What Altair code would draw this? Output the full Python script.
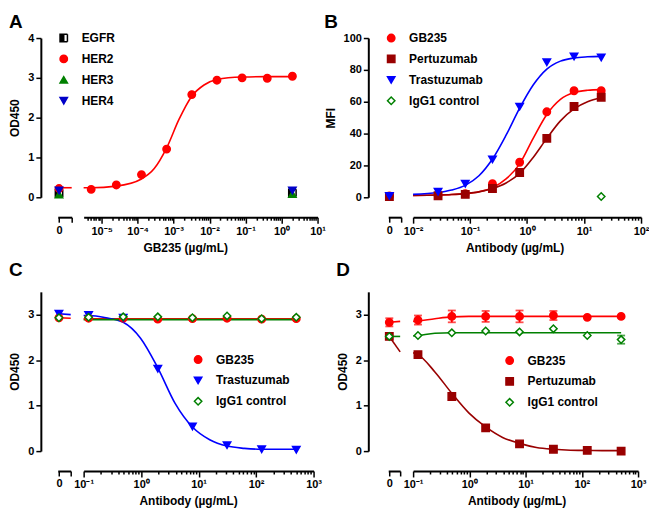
import math
import altair as alt
import pandas as pd

FONT = "Liberation Sans"

# ---------------- Panel A : ELISA binding, OD450 vs GB235 ----------------
A_SERIES = ["EGFR", "HER2", "HER3", "HER4"]
A_CONC = [5.12e-6, 2.56e-5, 1.28e-4, 6.4e-4, 3.2e-3, 1.6e-2, 8e-2, 0.4, 2.0]
A_HER2 = [0.20, 0.31, 0.57, 1.21, 2.58, 2.94, 3.00, 2.99, 3.04]
A_TOP_CONC = [2.0]
A_EGFR = [0.11]
A_HER3 = [0.08]
A_HER4 = [0.17]
A_ZERO = [0.10, 0.22, 0.07, 0.17]          # EGFR, HER2, HER3, HER4 at 0
A_FIT_CONC = [3.16e-6, 5.12e-6, 2.56e-5, 1.28e-4, 2.9e-4, 6.4e-4, 1.4e-3,
              3.2e-3, 7e-3, 1.6e-2, 8e-2, 0.4, 2.0]
A_FIT_HER2 = [0.24, 0.24, 0.28, 0.46, 0.72, 1.24, 1.95, 2.54, 2.82, 2.96,
              3.02, 3.03, 3.03]
A_FIT0_HER2 = [0.24, 0.24]

# ---------------- Panel B : cell binding, MFI ----------------
B_SERIES = ["GB235", "Pertuzumab", "Trastuzumab", "IgG1 control"]
B_CONC = [0.0274, 0.0823, 0.247, 0.741, 2.22, 6.67, 20.0]
B_GB235 = [1.4, 2.3, 8.5, 22.0, 53.7, 66.9, 66.9]
B_PERTUZUMAB = [1.0, 1.8, 5.5, 15.6, 37.0, 57.0, 62.8]
B_TRASTUZUMAB = [3.5, 8.5, 23.8, 56.9, 84.8, 88.4, 87.8]
B_IGG1_CONC = [20.0]
B_IGG1 = [0.5]
B_ZERO_SERIES = ["GB235", "Pertuzumab", "Trastuzumab"]
B_ZERO = [0.8, 0.5, 0.9]
B_FIT_CONC = [0.01, 0.0274, 0.0475, 0.0823, 0.143, 0.247, 0.428, 0.741,
              1.28, 2.22, 3.85, 6.67, 11.5, 20.0]
B_FIT_GB235 = [1.2, 1.4, 1.7, 2.3, 3.5, 6.0, 11.5, 21.0, 37.0, 52.0, 61.5,
               65.8, 67.2, 67.6]
B_FIT_PERTUZUMAB = [1.2, 1.4, 1.7, 2.3, 3.4, 5.5, 9.0, 15.0, 25.0, 37.0,
                    48.0, 55.5, 60.0, 62.5]
B_FIT_TRASTUZUMAB = [1.8, 3.0, 4.6, 7.5, 13.5, 24.0, 39.0, 56.0, 70.5, 80.5,
                     85.5, 87.5, 88.2, 88.5]

# ---------------- Panel C : OD450 vs Trastuzumab ----------------
C_SERIES = ["GB235", "Trastuzumab", "IgG1 control"]
C_CONC = [0.122, 0.488, 1.95, 7.81, 31.25, 125.0, 500.0]
C_GB235 = [2.92, 2.92, 2.90, 2.91, 2.92, 2.90, 2.91]
C_TRASTUZUMAB = [2.99, 2.93, 1.81, 0.54, 0.13, 0.04, 0.03]
C_IGG1 = [2.94, 2.95, 2.95, 2.93, 2.97, 2.91, 2.94]
C_ZERO = [2.93, 3.02, 2.93]
C_FIT_CONC = [0.1, 0.122, 0.244, 0.488, 0.977, 1.95, 3.9, 7.81, 15.6, 31.25,
              62.5, 125.0, 250.0, 500.0]
C_FIT_TRASTUZUMAB = [2.98, 2.98, 2.93, 2.83, 2.48, 1.83, 1.05, 0.53, 0.25,
                     0.11, 0.06, 0.04, 0.04, 0.04]
C_FLAT_CONC = [0.1, 500.0]
C_FIT_GB235 = [2.91, 2.91]
C_FIT_IGG1 = [2.89, 2.89]
C_FIT0_GB235 = [2.93, 2.92]
C_FIT0_TRASTUZUMAB = [3.02, 3.00]

# ---------------- Panel D : OD450 vs Pertuzumab ----------------
D_SERIES = ["GB235", "Pertuzumab", "IgG1 control"]
D_CONC = [0.122, 0.488, 1.95, 7.81, 31.25, 125.0, 500.0]
D_GB235 = [2.88, 2.96, 2.96, 2.96, 2.98, 2.94, 2.96]
D_GB235_ERR = [0.10, 0.13, 0.12, 0.13, 0.10, 0.0, 0.0]
D_PERTUZUMAB = [2.12, 1.20, 0.51, 0.16, 0.04, 0.015, 0.0]
D_IGG1 = [2.54, 2.60, 2.64, 2.62, 2.69, 2.54, 2.45]
D_IGG1_ERR = [0.0, 0.0, 0.0, 0.0, 0.0, 0.0, 0.09]
D_ZERO = [2.83, 2.52, 2.52]
D_ZERO_ERR = [0.09, 0.0, 0.0]
D_FIT_CONC = [0.1, 0.122, 0.244, 0.488, 0.977, 1.95, 3.9, 7.81, 15.6, 31.25,
              62.5, 125.0, 250.0, 500.0]
D_FIT_GB235 = [2.85, 2.86, 2.91, 2.95, 2.96, 2.96, 2.96, 2.96, 2.96, 2.96,
               2.96, 2.96, 2.96, 2.96]
D_FIT_PERTUZUMAB = [2.16, 2.12, 1.74, 1.27, 0.84, 0.53, 0.30, 0.17, 0.08,
                    0.04, 0.02, 0.015, 0.01, 0.01]
D_FIT_IGG1 = [2.53, 2.54, 2.59, 2.60, 2.60, 2.60, 2.60, 2.60, 2.60, 2.60,
              2.60, 2.60, 2.60, 2.60]
D_FIT0_GB235 = [2.83, 2.85]
D_FIT0_PERTUZUMAB = [2.52, 2.18]
D_FIT0_IGG1 = [2.52, 2.52]

# ---------------- styles ----------------
EGFR_PATH = "M-1,-1H0V1H-1Z M0,-1H1H0 M1,-1V1V-1 M0,1H1H0"
STYLE = {
    "EGFR": ("black", "black", EGFR_PATH),
    "HER2": ("#FF0000", "#FF0000", "circle"),
    "HER3": ("#008000", "#008000", "triangle-up"),
    "HER4": ("#0000C8", "#0000C8", "triangle-down"),
    "GB235": ("#FF0000", "#FF0000", "circle"),
    "Pertuzumab": ("#990000", "#990000", "square"),
    "Trastuzumab": ("#0000FF", "#0000FF", "triangle-down"),
    "IgG1 control": ("white", "#008000", "diamond"),
}
LINE = {"HER2": "#FF0000", "GB235": "#FF0000", "Pertuzumab": "#990000",
        "Trastuzumab": "#0000FF", "IgG1 control": "#008000"}
SIZE = 55
H = 160
SUP = str.maketrans("-0123456789", "⁻⁰¹²³⁴⁵⁶⁷⁸⁹")
MAJOR = "abs(log(datum.value)/LN10 - round(log(datum.value)/LN10)) < 0.001"


def pts_df(items):
    rows = []
    for s, xs, ys in items:
        f, st, sh = STYLE[s]
        for xv, yv in zip(xs, ys):
            rows.append(dict(series=s, x=xv, y=yv, fill=f, stroke=st, shape=sh))
    return pd.DataFrame(rows)


def line_df(items):
    rows = []
    for s, xs, ys in items:
        for xv, yv in zip(xs, ys):
            rows.append(dict(series=s, x=xv, y=yv, color=LINE[s]))
    return pd.DataFrame(rows)


def err_df(items):
    rows = []
    for s, xs, ys, es in items:
        for xv, yv, ev in zip(xs, ys, es):
            if ev > 0:
                rows.append(dict(series=s, x=xv, lo=yv - ev, hi=yv + ev, color=LINE[s]))
    return pd.DataFrame(rows)


def log_ticks(dom):
    vals = []
    for k in range(math.floor(math.log10(dom[0])), math.ceil(math.log10(dom[1])) + 1):
        for m in range(1, 10):
            v = float(f"{m * 10.0 ** k:.6g}")
            if dom[0] * 0.999 <= v <= dom[1] * 1.001:
                vals.append(v)
    return vals


def log_label_expr(dom):
    exps = range(math.ceil(math.log10(dom[0]) - 1e-9), math.floor(math.log10(dom[1]) + 1e-9) + 1)
    inner = "''"
    for k in reversed(list(exps)):
        inner = f"round(log(datum.value)/LN10) == {k} ? '10{str(k).translate(SUP)}' : ({inner})"
    return f"{MAJOR} ? ({inner}) : ''"


def errbar(df, x, y_scale, y_axis):
    return alt.Chart(df).mark_errorbar(
        ticks={"size": 8, "thickness": 1.8}, thickness=1.8).encode(
        x=x, y=alt.Y("lo:Q", scale=y_scale, axis=y_axis),
        y2="hi:Q", color=alt.Color("color:N", scale=None))


def panel(title, title_offset, w0, gap, w1, dom1, ydom, yvals, ytitle, yoff, series,
          xtitle, title_x, leg_xy, pts0, pts, fits0=None, fits=None,
          errs0=None, errs=None):
    W = w0 + gap + w1
    dom0 = [-0.1, 1.0]
    y_scale = alt.Scale(domain=ydom, nice=False, zero=False)
    y_axis = alt.Axis(values=yvals, offset=yoff, title=ytitle, tickSize=5,
                      labelPadding=2, titlePadding=6)
    y = alt.Y("y:Q", scale=y_scale, axis=y_axis)

    x0 = alt.X("x:Q", scale=alt.Scale(domain=dom0, range=[0, w0], nice=False, zero=False),
               axis=alt.Axis(orient="bottom", values=[0, dom0[1]],
                             labelExpr="datum.value == 0 ? '0' : ''", offset=20,
                             title=None, tickSize=5, labelPadding=2,
                             labelFlush=False, labelOverlap=False))
    x1 = alt.X("x:Q", scale=alt.Scale(type="log", domain=dom1, range=[w0 + gap, W], nice=False),
               axis=alt.Axis(orient="bottom", values=log_ticks(dom1),
                             labelExpr=log_label_expr(dom1),
                             tickSize={"condition": {"test": MAJOR, "value": 6}, "value": 3},
                             offset=20, title=xtitle, titleX=title_x, labelFlush=False,
                             labelOverlap=False, labelPadding=2, titlePadding=6))

    # zero segment of the broken x axis
    l0 = []
    if fits0 is not None:
        l0.append(alt.Chart(line_df(fits0)).mark_line(strokeWidth=1.6).encode(
            x=x0, y=y, detail="series:N", stroke=alt.Stroke("color:N", scale=None)))
    if errs0 is not None:
        l0.append(errbar(err_df(errs0), x0, y_scale, y_axis))
    l0.append(alt.Chart(pts_df(pts0)).mark_point(
        filled=True, size=SIZE, strokeWidth=1.5, opacity=1).encode(
        x=x0, y=y,
        fill=alt.Fill("fill:N", scale=None),
        stroke=alt.Stroke("stroke:N", scale=None),
        shape=alt.Shape("shape:N", scale=None)))

    # log segment
    leg = alt.Legend(title=None, orient="none", legendX=leg_xy[0], legendY=leg_xy[1],
                     direction="vertical", labelFont=FONT, labelFontWeight="bold",
                     labelFontSize=12, labelColor="black", symbolSize=SIZE,
                     symbolStrokeWidth=1.5, rowPadding=7, labelOffset=12,
                     labelLimit=300, padding=0)
    fills = [STYLE[s][0] for s in series]
    strokes = [STYLE[s][1] for s in series]
    shapes = [STYLE[s][2] for s in series]
    l1 = [alt.Chart(line_df(fits)).mark_line(strokeWidth=1.6, interpolate="monotone").encode(
        x=x1, y=y, detail="series:N", stroke=alt.Stroke("color:N", scale=None))]
    if errs is not None:
        l1.append(errbar(err_df(errs), x1, y_scale, y_axis))
    l1.append(alt.Chart(pts_df(pts)).mark_point(
        filled=True, size=SIZE, strokeWidth=1.5, opacity=1).encode(
        x=x1, y=y,
        fill=alt.Fill("series:N", scale=alt.Scale(domain=series, range=fills), legend=leg),
        stroke=alt.Stroke("series:N", scale=alt.Scale(domain=series, range=strokes), legend=leg),
        shape=alt.Shape("series:N", scale=alt.Scale(domain=series, range=shapes), legend=leg)))

    return (alt.layer(alt.layer(*l0), alt.layer(*l1))
            .resolve_scale(x="independent").resolve_axis(x="independent")
            .properties(width=W, height=H,
                        title=alt.TitleParams(title, anchor="start", frame="bounds",
                                              fontSize=19, font=FONT, fontWeight="bold",
                                              color="black", offset=title_offset)))


panel_a = panel(
    "A", 0, 14, 12, 235, [10 ** -5.5, 10.0], [0, 4], [0, 1, 2, 3, 4],
    "OD450", 17, A_SERIES, "GB235 (µg/mL)", 128, (0, -6),
    [(s, [0], [v]) for s, v in zip(A_SERIES, A_ZERO)],
    [("EGFR", A_TOP_CONC, A_EGFR), ("HER2", A_CONC, A_HER2),
     ("HER3", A_TOP_CONC, A_HER3), ("HER4", A_TOP_CONC, A_HER4)],
    fits0=[("HER2", [0, 1.0], A_FIT0_HER2)],
    fits=[("HER2", A_FIT_CONC, A_FIT_HER2)])

panel_b = panel(
    "B", 0, 13, 12, 229, [0.01, 100.0], [0, 100], [0, 20, 40, 60, 80, 100],
    "MFI", 20, B_SERIES, "Antibody (µg/mL)", 127, (-3, -6),
    [(s, [0], [v]) for s, v in zip(B_ZERO_SERIES, B_ZERO)],
    [("GB235", B_CONC, B_GB235), ("Pertuzumab", B_CONC, B_PERTUZUMAB),
     ("Trastuzumab", B_CONC, B_TRASTUZUMAB), ("IgG1 control", B_IGG1_CONC, B_IGG1)],
    fits=[("GB235", B_FIT_CONC, B_FIT_GB235), ("Pertuzumab", B_FIT_CONC, B_FIT_PERTUZUMAB),
          ("Trastuzumab", B_FIT_CONC, B_FIT_TRASTUZUMAB)])

panel_c = panel(
    "C", 12, 13, 13, 231, [0.1, 1000.0], [0, 3.5], [0, 1, 2, 3],
    "OD450", 17, C_SERIES, "Antibody (µg/mL)", 131, (135, 62),
    [(s, [0], [v]) for s, v in zip(C_SERIES, C_ZERO)],
    [("GB235", C_CONC, C_GB235), ("Trastuzumab", C_CONC, C_TRASTUZUMAB),
     ("IgG1 control", C_CONC, C_IGG1)],
    fits0=[("GB235", [0, 1.0], C_FIT0_GB235), ("Trastuzumab", [0, 1.0], C_FIT0_TRASTUZUMAB)],
    fits=[("GB235", C_FLAT_CONC, C_FIT_GB235), ("Trastuzumab", C_FIT_CONC, C_FIT_TRASTUZUMAB),
          ("IgG1 control", C_FLAT_CONC, C_FIT_IGG1)])

panel_d = panel(
    "D", 12, 12, 13, 226, [0.1, 1000.0], [0, 3.5], [0, 1, 2, 3],
    "OD450", 20, D_SERIES, "Antibody (µg/mL)", 129, (116, 63),
    [(s, [0], [v]) for s, v in zip(D_SERIES, D_ZERO)],
    [("GB235", D_CONC, D_GB235), ("Pertuzumab", D_CONC, D_PERTUZUMAB),
     ("IgG1 control", D_CONC, D_IGG1)],
    fits0=[("GB235", [0, 1.0], D_FIT0_GB235), ("Pertuzumab", [0, 1.0], D_FIT0_PERTUZUMAB),
           ("IgG1 control", [0, 1.0], D_FIT0_IGG1)],
    fits=[("GB235", D_FIT_CONC, D_FIT_GB235), ("Pertuzumab", D_FIT_CONC, D_FIT_PERTUZUMAB),
          ("IgG1 control", D_FIT_CONC, D_FIT_IGG1)],
    errs0=[(s, [0], [v], [e]) for s, v, e in zip(D_SERIES, D_ZERO, D_ZERO_ERR)],
    errs=[("GB235", D_CONC, D_GB235, D_GB235_ERR),
          ("IgG1 control", D_CONC, D_IGG1, D_IGG1_ERR)])

RES = dict(fill="independent", stroke="independent", shape="independent")

chart = (
    alt.concat(panel_a, panel_b, panel_c, panel_d, columns=2,
               spacing={"row": 95, "column": 71}, bounds="flush")
    .resolve_scale(**RES).resolve_legend(**RES)
    .properties(padding={"top": 4, "left": 0, "right": 0, "bottom": 0}, background="white")
    .configure_view(stroke=None)
    .configure_axis(domainColor="black", domainWidth=2, tickColor="black", tickWidth=1.5,
                    labelFont=FONT, labelFontWeight="bold", labelFontSize=11,
                    labelColor="black", titleFont=FONT, titleFontWeight="bold",
                    titleFontSize=12, titleColor="black", grid=False)
)

chart.save("out.html", embed_options={"renderer": "svg", "actions": False})
